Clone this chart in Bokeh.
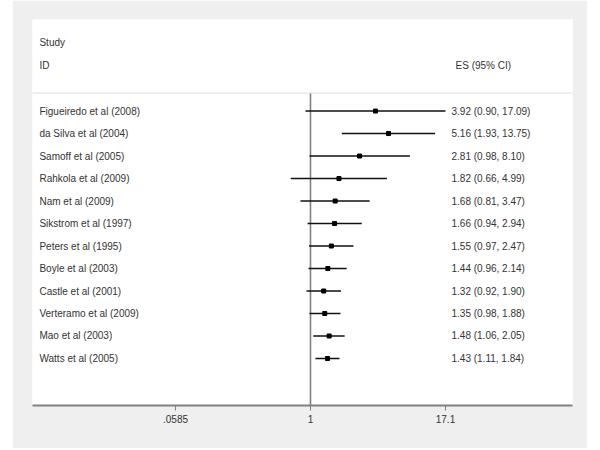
import math
from bokeh.plotting import figure
from bokeh.layouts import row
from bokeh.models import ColumnDataSource, Range1d, FixedTicker, Span, Spacer
from bokeh.core.properties import value
from bokeh.embed import file_html
from bokeh.resources import INLINE

studies = ["Figueiredo et al (2008)", "da Silva et al (2004)", "Samoff et al (2005)",
           "Rahkola et al (2009)", "Nam et al (2009)", "Sikstrom et al (1997)",
           "Peters et al (1995)", "Boyle et al (2003)", "Castle et al (2001)",
           "Verteramo et al (2009)", "Mao et al (2003)", "Watts et al (2005)"]
es = [3.92, 5.16, 2.81, 1.82, 1.68, 1.66, 1.55, 1.44, 1.32, 1.35, 1.48, 1.43]
lower = [0.90, 1.93, 0.98, 0.66, 0.81, 0.94, 0.97, 0.96, 0.92, 0.98, 1.06, 1.11]
upper = [17.09, 13.75, 8.10, 4.99, 3.47, 2.94, 2.47, 2.14, 1.90, 1.88, 2.05, 1.84]
tick_values = [0.0585, 1, 17.1]
tick_labels = [".0585", "1", "17.1"]

rows = list(range(len(studies)))
labels = ["%.2f (%.2f, %.2f)" % (e, l, u) for e, l, u in zip(es, lower, upper)]

FONT = "Liberation Sans"
TXT = "#333333"
BG = "#efefef"

p = figure(width=575, height=448, output_backend="svg", toolbar_location=None,
           x_axis_type="log",
           x_range=Range1d(math.exp(-5.846), math.exp(5.51)),
           y_range=Range1d(13.09, -4.07),
           min_border_left=20, min_border_right=15, min_border_top=19,
           min_border_bottom=43)
p.border_fill_color = BG
p.background_fill_color = "white"
p.outline_line_color = None
p.xgrid.visible = False
p.ygrid.visible = False
p.yaxis.visible = False

ax = p.xaxis[0]
ax.ticker = FixedTicker(ticks=tick_values, minor_ticks=[])
ax.major_label_overrides = {v: t for v, t in zip(tick_values, tick_labels)}
ax.axis_line_color = "#808080"
ax.axis_line_width = 2
ax.major_tick_line_color = "#808080"
ax.major_tick_in = 0
ax.major_tick_out = 5
ax.minor_tick_line_color = None
ax.major_label_text_font = FONT
ax.major_label_text_font_size = "10px"
ax.major_label_text_color = TXT
ax.major_label_standoff = 4

src = ColumnDataSource(dict(y=rows, es=es, lo=lower, hi=upper, name=studies, lab=labels))

x_left_text = math.exp(-5.70)
x_right_text = math.exp(2.965)

# header divider
p.add_layout(Span(location=-0.80, dimension="width", line_color="#dddddd", line_width=1))
# reference line at 1
p.segment(x0=[1], x1=[1], y0=[-0.80], y1=[13.09], line_color="#808080", line_width=1.6)

p.segment(x0="lo", x1="hi", y0="y", y1="y", source=src, line_color="#111111", line_width=1.6)
p.scatter(x="es", y="y", source=src, marker="square", size=4, color="black")

p.text(x=x_left_text, y="y", text="name", source=src, text_font=value(FONT),
       text_font_size="10px", text_color=TXT, text_baseline="middle", text_align="left")
p.text(x=x_right_text, y="y", text="lab", source=src, text_font=value(FONT),
       text_font_size="10px", text_color=TXT, text_baseline="middle", text_align="left")

p.text(x=[x_left_text, x_left_text, math.exp(3.05)], y=[-3.05, -2.03, -2.03],
       text=["Study", "ID", "ES (95% CI)"], text_font=value(FONT),
       text_font_size="10px", text_color=TXT, text_baseline="middle", text_align="left")

layout = row(Spacer(width=12, height=448), p)
open("out.html", "w").write(file_html(layout, INLINE))
